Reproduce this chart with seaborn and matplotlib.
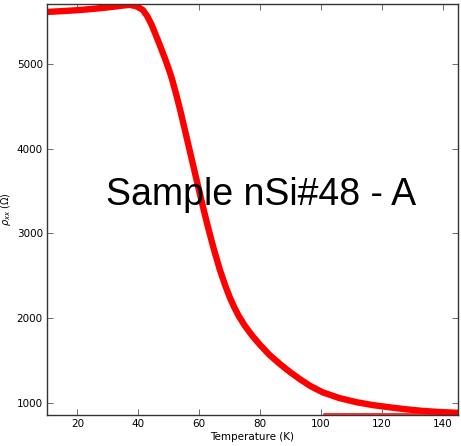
import matplotlib
matplotlib.use("Agg")
import matplotlib.pyplot as plt
import seaborn as sns
import pandas as pd

# Resistivity vs temperature, sample nSi#48 - A
temperature = [9.9, 15, 20, 25, 30, 35, 37.2, 39.5, 41.5, 43.0, 44.4, 46.4, 48.7,
               50.0, 51.0, 52.6, 54.0, 55.3, 57.0, 58.6, 60.0, 61.2, 62.5, 63.5,
               65.0, 66.8, 68.5, 70.0, 71.5, 73.0, 75.0, 77.5, 80.0, 83.0, 86.5,
               90.0, 93.1, 96.5, 100.6, 106, 111.8, 117, 122.7, 128, 133.5, 139,
               144.7, 145]
rho_xx = [5614, 5624, 5635, 5650, 5668, 5690, 5698, 5680, 5637, 5560, 5460, 5283,
          5070, 4940, 4830, 4620, 4420, 4220, 3960, 3714, 3500, 3320, 3130, 2990,
          2790, 2570, 2390, 2250, 2130, 2025, 1910, 1790, 1685, 1570, 1460,
          1360, 1280, 1200, 1125, 1058, 1008, 975, 948, 925, 906, 893,
          884, 883]

# Second sweep, flat near the bottom
temperature_b = [101, 145]
rho_xx_b = [868, 868]

sns.set_style("ticks")
plt.rcParams["font.family"] = ["DejaVu Sans"]
plt.rcParams["text.color"] = "black"

fig = plt.figure(figsize=(4.61, 4.46), dpi=100)
ax = fig.add_axes([47 / 461, (446 - 415) / 446, 411 / 461, 411 / 446])

df = pd.DataFrame({"T": temperature, "rho": rho_xx})
df_b = pd.DataFrame({"T": temperature_b, "rho": rho_xx_b})
sns.lineplot(data=df_b, x="T", y="rho", ax=ax, color="#ff3333", lw=2.2, sort=False)
sns.lineplot(data=df, x="T", y="rho", ax=ax, color="red", lw=4.6, sort=False,
             solid_joinstyle="round")

ax.set_xlim(10, 145)
ax.set_ylim(858, 5708)
ax.set_xticks([20, 40, 60, 80, 100, 120, 140])
ax.set_yticks([1000, 2000, 3000, 4000, 5000])
ax.tick_params(direction="in", top=True, right=True, labelsize=7.5, length=4,
               width=0.6, colors="#555555", labelcolor="black", pad=3)
for s in ax.spines.values():
    s.set_linewidth(1.0)
    s.set_color("#333333")

ax.set_xlabel("Temperature (K)", fontsize=7.5, labelpad=2, color="black")
ax.set_ylabel(r"$\rho_{xx}$ ($\Omega$)", fontsize=7, labelpad=3, color="black")

ax.text(0.52, 0.535, "Sample nSi#48 - A", transform=ax.transAxes,
        ha="center", va="center", fontsize=27, color="black",
        family=["Liberation Sans"])

fig.savefig("out.png", dpi=100)
